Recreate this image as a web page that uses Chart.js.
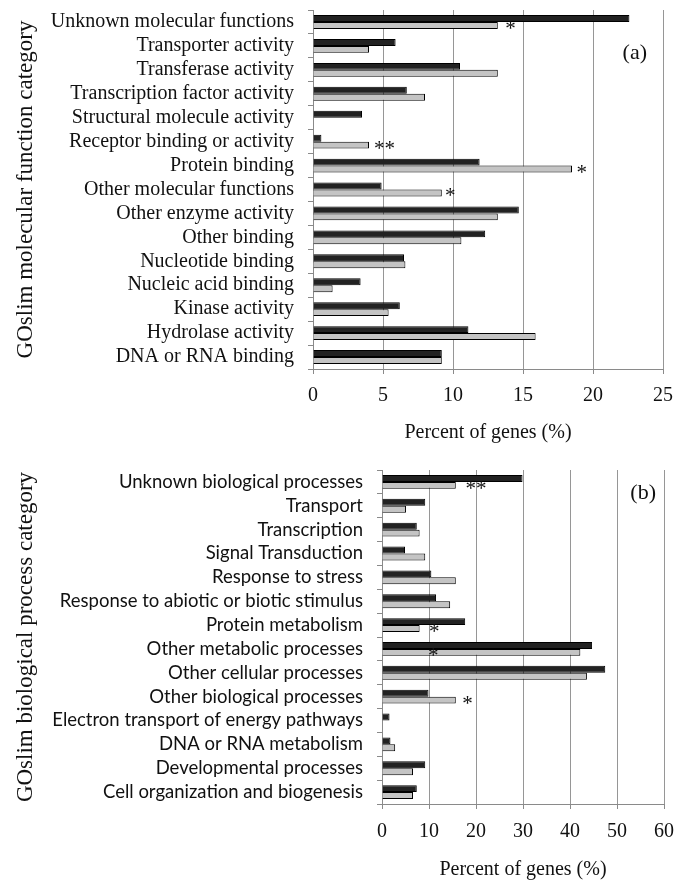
<!DOCTYPE html>
<html>
<head>
<meta charset="utf-8">
<script src="https://cdn.jsdelivr.net/npm/chart.js@4.4.1/dist/chart.umd.min.js"></script>
<style>
  html, body { margin: 0; padding: 0; background: #fff; }
  canvas { display: block; }
</style>
</head>
<body>
<canvas id="chart-a" width="688" height="445"></canvas>
<canvas id="chart-b" width="688" height="435"></canvas>
<script>
  "use strict";

  // (a) GOslim molecular function
  var funcLabels = [
    "Unknown molecular functions", "Transporter activity", "Transferase activity",
    "Transcription factor activity", "Structural molecule activity",
    "Receptor binding or activity", "Protein binding", "Other molecular functions",
    "Other enzyme activity", "Other binding", "Nucleotide binding",
    "Nucleic acid binding", "Kinase activity", "Hydrolase activity", "DNA or RNA binding"
  ];
  var funcDark = [22.6, 5.9, 10.5, 6.7, 3.5, 0.6, 11.9, 4.9, 14.7, 12.3, 6.5, 3.4, 6.2, 11.1, 9.2];
  var funcLight = [13.2, 4.0, 13.2, 8.0, null, 4.0, 18.5, 9.2, 13.2, 10.6, 6.6, 1.4, 5.4, 15.9, 9.2];
  var funcStars = ["*", "", "", "", "", "**", "*", "*", "", "", "", "", "", "", ""];
  var funcStarAt = [14.1, 0, 0, 0, 0, 5.1, 19.2, 9.8, 0, 0, 0, 0, 0, 0, 0];
  var funcMax = 25;
  var funcStep = 5;

  // (b) GOslim biological process
  var procLabels = [
    "Unknown biological processes", "Transport", "Transcription", "Signal Transduction",
    "Response to stress", "Response to abiotic or biotic stimulus", "Protein metabolism",
    "Other metabolic processes", "Other cellular processes", "Other biological processes",
    "Electron transport of energy pathways", "DNA or RNA metabolism",
    "Developmental processes", "Cell organization and biogenesis"
  ];
  var procDark = [29.9, 9.2, 7.4, 4.9, 10.5, 11.5, 17.7, 44.7, 47.5, 9.9, 1.6, 1.8, 9.2, 7.4];
  var procLight = [15.7, 5.1, 8.0, 9.2, 15.7, 14.5, 8.0, 42.2, 43.6, 15.7, null, 2.8, 6.6, 6.6];
  var procStars = ["**", "", "", "", "", "", "*", "*", "", "*", "", "", "", ""];
  var procStarAt = [20.0, 0, 0, 0, 0, 0, 11.1, 10.9, 0, 18.2, 0, 0, 0, 0];
  var procMax = 60;
  var procStep = 10;

  var SERIF = "'Liberation Serif', 'Times New Roman', serif";
  var SANS = "Lato, 'Open Sans', sans-serif";
  var COLORS = {
    dark: "#222222",
    light: "#c4c4c4",
    border: "#000000",
    grid: "#969696",
    axis: "#8a8a8a",
    text: "#111111",
  };

  // asterisks next to the bars + panel tag
  var markPlugin = {
    id: "marks",
    afterDatasetsDraw: function (chart, args, opts) {
      var ctx = chart.ctx;
      var x = chart.scales.x;
      var meta = chart.getDatasetMeta(1);
      ctx.save();
      ctx.fillStyle = COLORS.text;
      ctx.font = "21px " + SERIF;
      ctx.textAlign = "center";
      ctx.textBaseline = "middle";
      opts.stars.forEach(function (s, i) {
        if (!s) return;
        var bar = meta.data[i];
        ctx.fillText(s, x.getPixelForValue(opts.starAt[i]), bar.y + 4);
      });
      var area = chart.chartArea;
      ctx.font = "22px " + SERIF;
      ctx.textAlign = "right";
      ctx.fillText(opts.tag, area.right + opts.tagDx, area.top + opts.tagDy);
      ctx.restore();
    },
  };

  function makeChart(id, o) {
    return new Chart(document.getElementById(id), {
      type: "bar",
      data: {
        labels: o.labels,
        datasets: [
          { data: o.dark, backgroundColor: COLORS.dark, borderColor: COLORS.border, borderWidth: 1 },
          { data: o.light, backgroundColor: COLORS.light, borderColor: COLORS.border, borderWidth: 1 },
        ],
      },
      options: {
        indexAxis: "y",
        responsive: false,
        animation: false,
        datasets: { bar: { categoryPercentage: 0.58, barPercentage: 1.0 } },
        layout: { padding: { left: 0, right: o.padRight, top: o.padTop, bottom: 0 } },
        plugins: {
          legend: { display: false },
          tooltip: { enabled: false },
          marks: { stars: o.stars, starAt: o.starAt, tag: o.tag, tagDx: o.tagDx, tagDy: o.tagDy },
        },
        scales: {
          x: {
            min: 0,
            max: o.max,
            ticks: { stepSize: o.step, color: COLORS.text, font: { family: SERIF, size: 20 }, padding: o.xTickPad },
            grid: { color: COLORS.grid, tickLength: 5, tickColor: COLORS.axis },
            border: { color: COLORS.axis },
            title: {
              display: true,
              text: "Percent of genes (%)",
              color: COLORS.text,
              font: { family: SERIF, size: 20 },
              padding: { top: 0, bottom: o.xTitlePad },
            },
            afterFit: function (scale) { scale.height = o.xHeight; },
          },
          y: {
            ticks: { color: COLORS.text, font: o.yFont, padding: 14, autoSkip: false },
            grid: { drawOnChartArea: false, tickLength: 5, tickColor: COLORS.axis },
            border: { color: COLORS.axis },
            title: {
              display: true,
              text: o.yTitle,
              color: COLORS.text,
              font: { family: SERIF, size: 23 },
              padding: { top: 12, bottom: 0 },
            },
            afterFit: function (scale) {
              scale.width = o.yWidth;
              scale.paddingTop = 0;
              scale.paddingBottom = 0;
            },
          },
        },
      },
      plugins: [markPlugin],
    });
  }

  makeChart("chart-a", {
    labels: funcLabels, dark: funcDark, light: funcLight,
    stars: funcStars, starAt: funcStarAt, max: funcMax, step: funcStep,
    tag: "(a)", tagDx: -16, tagDy: 43,
    yTitle: "GOslim molecular function category",
    yFont: { family: SERIF, size: 20 },
    yWidth: 313, xHeight: 76, padRight: 25, padTop: 10, xTitlePad: 0, xTickPad: 10,
  });

  makeChart("chart-b", {
    labels: procLabels, dark: procDark, light: procLight,
    stars: procStars, starAt: procStarAt, max: procMax, step: procStep,
    tag: "(b)", tagDx: -8, tagDy: 23,
    yTitle: "GOslim biological process category",
    yFont: { family: SANS, size: 18.5 },
    yWidth: 382, xHeight: 76, padRight: 24, padTop: 25, xTitlePad: -2, xTickPad: 11,
  });
</script>
</body>
</html>
